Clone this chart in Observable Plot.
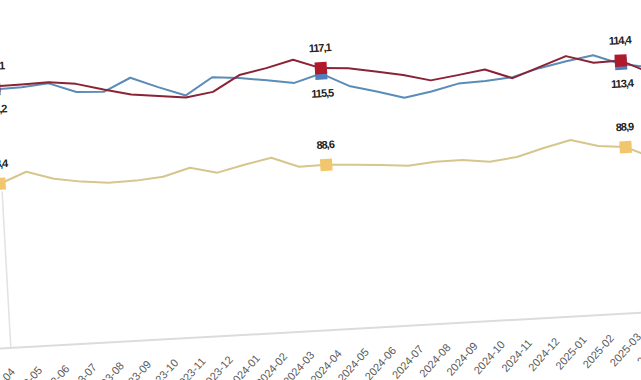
<!DOCTYPE html>
<html><head><meta charset="utf-8">
<script src="https://cdn.jsdelivr.net/npm/d3@7"></script>
<script src="https://cdn.jsdelivr.net/npm/@observablehq/plot@0.6"></script>
<style>
html,body{margin:0;padding:0;background:#fff;overflow:hidden}
#wrap{position:relative;width:641px;height:380px;overflow:hidden;background:#fff}
#wrap svg{position:absolute;left:-70px;top:0;width:760px !important;height:380px !important;max-width:none !important;transform-origin:390px 190px;transform:rotate(-3.2deg)}
.dlab text{letter-spacing:-1px}
</style></head><body><div id="wrap"></div>
<script>
const months = ["2023-04","2023-05","2023-06","2023-07","2023-08","2023-09","2023-10","2023-11","2023-12",
  "2024-01","2024-02","2024-03","2024-04","2024-05","2024-06","2024-07","2024-08","2024-09","2024-10",
  "2024-11","2024-12","2025-01","2025-02","2025-03","2025-04"];
const redValues = [117.1,117.2,117.4,116.5,114.4,112.5,111.6,110.7,111.9,116.4,118.0,120.0,117.1,116.6,115.2,113.7,111.7,112.8,114.0,111.0,113.8,116.6,114.2,114.4,110.5];
const blueValues = [116.2,116.4,117.1,114.1,113.7,117.4,114.2,111.3,116.2,115.5,114.4,113.2,115.5,111.4,109.3,107.0,108.4,110.3,110.6,111.3,113.5,115.1,116.4,113.4,112.0];
const yellowValues = [88.4,91.5,89.0,87.7,86.9,87.1,87.8,90.0,88.1,90.0,91.6,88.5,88.6,88.2,87.7,87.0,87.7,87.8,86.8,87.8,90.0,91.9,89.7,88.9,85.2];
const markerMonths = ["2023-04","2024-04","2025-03"];

const seriesDefs = [
  {key:"yellow", values:yellowValues, line:"#d6c68c", marker:"#f2c66c", labelDy:-20},
  {key:"blue", values:blueValues, line:"#5b8cb7", marker:"#4f80bd", labelDy:20},
  {key:"red", values:redValues, line:"#8a2336", marker:"#b01a2b", labelDy:-20}
];
const rows = seriesDefs.flatMap(s => months.map((m,i)=>({month:m, value:s.values[i], key:s.key})));
const fmt = v => d3.format(".1f")(v).replace(".", ",");

const marks = [
  Plot.ruleY([40], {stroke:"#dcdcdc", strokeWidth:2}),
  Plot.ruleX([months[0]], {y1:40, y2:86, stroke:"#e2e2e2", strokeWidth:1.5, dx:2}),
  Plot.axisX({ticks: months, tickRotate:-45, tickSize:0, tickPadding:22, fontSize:11, fill:"#595959",
    fontFamily:"Liberation Sans, Arial, sans-serif", dx:3, label:null})
];
for (const s of seriesDefs) {
  marks.push(Plot.line(rows.filter(r=>r.key===s.key), {x:"month", y:"value", stroke:s.line, strokeWidth:2}));
}
for (const s of ["blue","yellow","red"].map(k=>seriesDefs.find(d=>d.key===k))) {
  const pts = rows.filter(r=>r.key===s.key && markerMonths.includes(r.month));
  marks.push(Plot.dot(pts, {x:"month", y:"value", symbol:"square", r:6.8, fill:s.marker, stroke:"none"}));
  marks.push(Plot.text(pts, {x:"month", y:"value", text:d=>fmt(d.value), dy:s.labelDy, fontSize:11,
    fontWeight:"bold", fill:"#222", className:"dlab",
    fontFamily:"Liberation Sans Narrow, Arial Narrow, Liberation Sans, Arial, sans-serif"}));
}

const chart = Plot.plot({
  width:760, height:380, marginLeft:0, marginRight:0, marginTop:0, marginBottom:50,
  x:{type:"point", domain:months, range:[70,724.3], padding:0, round:false, axis:null},
  y:{domain:[40,140], range:[330,-10], axis:null},
  style:{background:"transparent", overflow:"visible"},
  marks
});
document.getElementById("wrap").appendChild(chart);
</script>
</body></html>
